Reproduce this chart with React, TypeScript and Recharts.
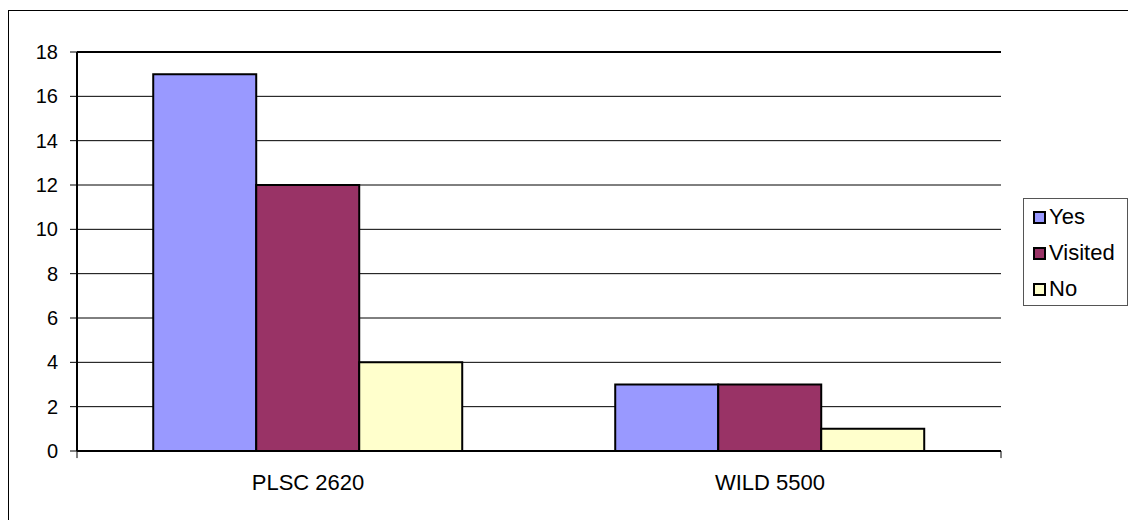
import { BarChart, Bar, XAxis, YAxis, CartesianGrid, ReferenceLine } from 'recharts'

const courses = ['PLSC 2620', 'WILD 5500']
const yes = [17, 3]
const visited = [12, 3]
const no = [4, 1]
const yTicks = [0, 2, 4, 6, 8, 10, 12, 14, 16, 18]
// group boundaries on the hidden 0..2 axis
const edgeTicks = [0, 1, 2]

const series = [
  { key: 'yes', name: 'Yes', color: '#9999FF' },
  { key: 'visited', name: 'Visited', color: '#993366' },
  { key: 'no', name: 'No', color: '#FFFFCC' },
]

const data = courses.map((course, i) => ({
  course,
  yes: yes[i],
  visited: visited[i],
  no: no[i],
}))

const font = '"Liberation Sans", Arial, sans-serif'
const tickDrop = -0.32 // ~7px below the baseline

export default function App() {
  return (
    <div
      style={{
        position: 'fixed',
        left: 8,
        top: 10,
        width: 1125,
        height: 515,
        boxSizing: 'border-box',
        border: '1px solid #000',
        background: '#fff',
        fontFamily: font,
      }}
    >
      <BarChart
        width={1119}
        height={501}
        data={data}
        margin={{ top: 41, right: 127, left: 0, bottom: 0 }}
        barCategoryGap="16.5%"
        barGap={0}
      >
        <CartesianGrid vertical={false} stroke="#000" strokeWidth={1} />
        <XAxis xAxisId="edges" type="number" domain={[0, 2]} hide />
        <XAxis
          dataKey="course"
          height={61}
          tickLine={false}
          axisLine={{ stroke: '#000', strokeWidth: 2 }}
          tick={{ fill: '#000', fontSize: 22, fontFamily: font }}
          tickMargin={17}
        />
        <YAxis
          width={68}
          domain={[0, 18]}
          ticks={yTicks}
          interval={0}
          tick={{ fill: '#000', fontSize: 20, fontFamily: font }}
          tickSize={7}
          tickMargin={12}
          tickLine={{ stroke: '#000' }}
          axisLine={{ stroke: '#000', strokeWidth: 2 }}
        />
        <YAxis
          yAxisId="frame"
          orientation="right"
          width={0}
          domain={[0, 18]}
          tick={false}
          tickLine={false}
          axisLine={{ stroke: '#000', strokeWidth: 2 }}
        />
        <ReferenceLine y={18} stroke="#000" strokeWidth={2} />
        {edgeTicks.map((t) => (
          <ReferenceLine
            key={t}
            xAxisId="edges"
            segment={[
              { x: t, y: 0 },
              { x: t, y: tickDrop },
            ]}
            ifOverflow="visible"
            stroke="#000"
            strokeWidth={1}
          />
        ))}
        {series.map((s) => (
          <Bar
            key={s.key}
            dataKey={s.key}
            name={s.name}
            fill={s.color}
            stroke="#000"
            strokeWidth={2}
            isAnimationActive={false}
          />
        ))}
      </BarChart>
      <div
        style={{
          position: 'absolute',
          left: 1014,
          top: 187,
          width: 105,
          height: 108,
          border: '1px solid #555',
          boxSizing: 'border-box',
        }}
      >
        {series.map((s) => (
          <div
            key={s.key}
            style={{ display: 'flex', alignItems: 'center', height: 36, paddingLeft: 9, fontSize: 22 }}
          >
            <span
              style={{
                display: 'inline-block',
                width: 9,
                height: 9,
                background: s.color,
                border: '2px solid #000',
                marginRight: 3,
              }}
            />
            {s.name}
          </div>
        ))}
      </div>
    </div>
  )
}
